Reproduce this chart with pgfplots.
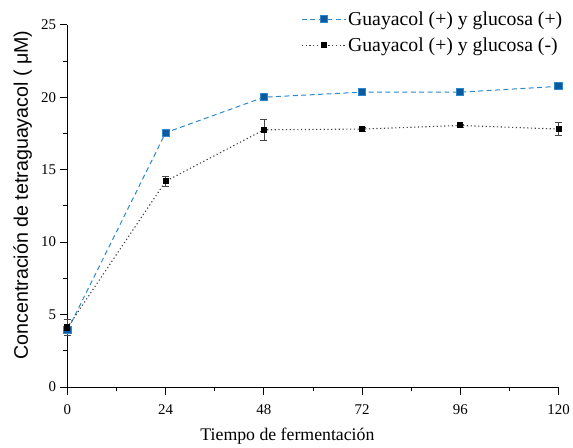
\documentclass[border=0pt]{standalone}
\usepackage{pgfplots}
\pgfplotsset{compat=1.18}
\usepackage{fontspec}
\setmainfont{Liberation Serif}
\newfontfamily\labelsans{Liberation Sans}
\definecolor{gblue}{RGB}{45,135,205}
\definecolor{gbluemark}{RGB}{10,90,160}
\definecolor{errgray}{RGB}{70,70,70}
\begin{document}
\begin{tikzpicture}
\begin{axis}[
  scale only axis,
  width=495pt, height=365pt,
  xmin=0, xmax=120, ymin=0, ymax=25,
  axis x line*=bottom, axis y line*=left,
  axis line style={line width=0.8pt, -},
  xtick={0,24,48,72,96,120},
  minor xtick={12,36,60,84,108},
  ytick={0,5,10,15,20,25},
  minor ytick={2.5,7.5,12.5,17.5,22.5},
  tick align=outside,
  major tick length=8pt, minor tick length=4.5pt,
  tick style={line width=0.8pt, black},
  tick label style={font=\fontsize{15}{15}\selectfont},
  xticklabel style={yshift=-6pt},
  /pgf/number format/assume math mode=true,
  xlabel={Tiempo de fermentación},
  xlabel style={font=\fontsize{17.9}{17.9}\selectfont, at={(axis description cs:0.448,-0.137)}, anchor=center},
  ylabel={\labelsans Concentración de tetraguayacol ( μM)},
  ylabel style={font=\fontsize{19.8}{19.8}\selectfont, at={(axis description cs:-0.091,0.53)}, anchor=center},
  clip=false,
  legend style={draw=none, fill=none, at={(axis description cs:1.012,1.043)}, anchor=north east,
    font=\fontsize{19.9}{21}\selectfont, row sep=7pt, inner sep=0pt},
  legend cell align=left,
  legend image code/.code={
    \draw[mark repeat=2, mark phase=2] plot coordinates {(0pt,0pt) (22pt,0pt) (44pt,0pt)};
  },
]
\addplot[gblue, dash pattern=on 5pt off 3.5pt, line width=1pt,
  mark=square*, mark size=3.6pt, mark options={solid, fill=gbluemark, draw=gblue},
  error bars/.cd, y dir=both, y explicit,
  error bar style={errgray, solid, line width=0.6pt}, error mark options={rotate=90, mark size=3.5pt, errgray}]
  coordinates {
  (0,3.9) +- (0,0.3)
  (24,17.55) +- (0,0.2)
  (48,20.0) +- (0,0.15)
  (72,20.35) +- (0,0.15)
  (96,20.35) +- (0,0.12)
  (120,20.75) +- (0,0.15)
  };
\addlegendentry{Guayacol (+) y glucosa (+)}
\addplot[black!75, dash pattern=on 1.2pt off 2.6pt, line width=1.1pt,
  mark=square*, mark size=2.5pt, mark options={solid, fill=black, draw=black},
  error bars/.cd, y dir=both, y explicit,
  error bar style={errgray, solid, line width=0.6pt}, error mark options={rotate=90, mark size=3.5pt, errgray}]
  coordinates {
  (0,4.1) +- (0,0.55)
  (24,14.2) +- (0,0.35)
  (48,17.75) +- (0,0.75)
  (72,17.8) +- (0,0.12)
  (96,18.05) +- (0,0.12)
  (120,17.8) +- (0,0.45)
  };
\addlegendentry{Guayacol (+) y glucosa (-)}
% fixed page frame around the axis
\path[draw=none] ([shift={(-68pt,-58pt)}]rel axis cs:0,0) rectangle ([shift={(10pt,25pt)}]rel axis cs:1,1);
\end{axis}
\end{tikzpicture}
\end{document}
